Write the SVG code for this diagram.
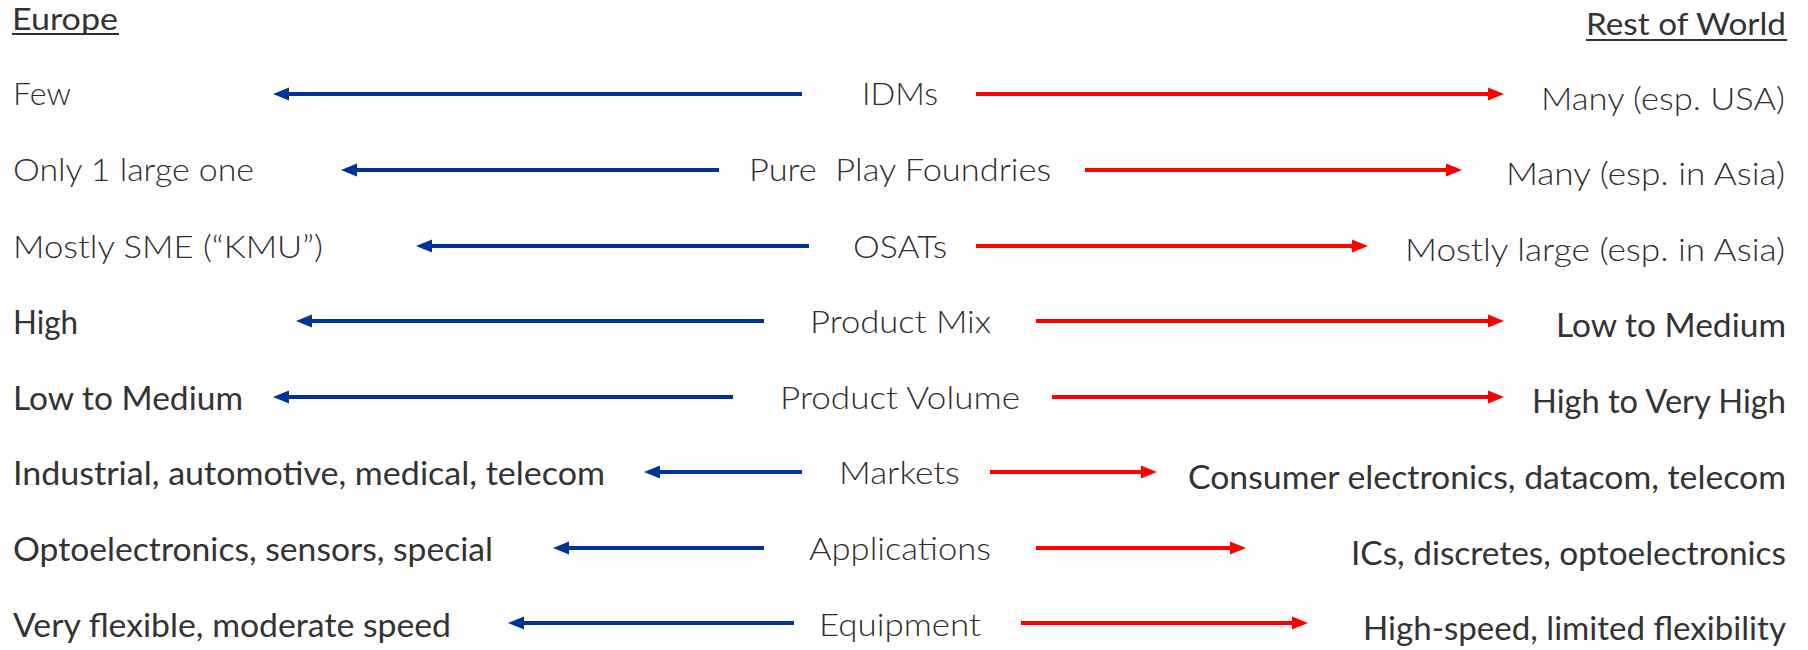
<svg xmlns="http://www.w3.org/2000/svg" width="1808" height="650" viewBox="0 0 1808 650">
  <defs>
    <style>
      text { font-family: "Lato", "Open Sans", "DejaVu Sans", sans-serif; fill: #404040; }
      .lt { font-size: 32px; font-weight: 300; fill: #2e2e2e; }
      .rg { font-size: 32px; font-weight: 400; fill: #333333; }
      .hd { font-size: 30px; font-weight: 400; fill: #333333; }
      .ul { stroke: #333333; stroke-width: 2; }
      .eu { stroke: #003399; stroke-width: 4; fill: none; marker-end: url(#headBlue); }
      .row { stroke: #ff0000; stroke-width: 4; fill: none; marker-end: url(#headRed); }
    </style>
    <marker id="headBlue" markerUnits="userSpaceOnUse" markerWidth="16" markerHeight="13" refX="2" refY="6.5" orient="auto" overflow="visible">
      <path d="M0,0 L16,6.5 L0,13 z" fill="#003399"/>
    </marker>
    <marker id="headRed" markerUnits="userSpaceOnUse" markerWidth="16" markerHeight="13" refX="2" refY="6.5" orient="auto" overflow="visible">
      <path d="M0,0 L16,6.5 L0,13 z" fill="#ff0000"/>
    </marker>
  </defs>

  <rect width="1808" height="650" fill="#ffffff"/>

  <!-- column headers -->
  <g id="header-europe">
    <text class="hd" x="12" y="30" textLength="106" lengthAdjust="spacingAndGlyphs">Europe</text>
    <line class="ul" x1="12" y1="34" x2="119" y2="34"/>
  </g>
  <g id="header-row">
    <text class="hd" x="1586" y="35" textLength="200" lengthAdjust="spacingAndGlyphs">Rest of World</text>
    <line class="ul" x1="1586" y1="40" x2="1787" y2="40"/>
  </g>

  <!-- topic labels (centre column) -->
  <g id="topic-idms"><text class="lt" x="862" y="105" textLength="76" lengthAdjust="spacingAndGlyphs">IDMs</text></g>
  <g id="topic-foundries"><text class="lt" x="749" y="181" textLength="302" lengthAdjust="spacingAndGlyphs" xml:space="preserve">Pure  Play Foundries</text></g>
  <g id="topic-osats"><text class="lt" x="853" y="258" textLength="94" lengthAdjust="spacingAndGlyphs">OSATs</text></g>
  <g id="topic-mix"><text class="lt" x="810" y="333" textLength="181" lengthAdjust="spacingAndGlyphs">Product Mix</text></g>
  <g id="topic-volume"><text class="lt" x="780" y="409" textLength="240" lengthAdjust="spacingAndGlyphs">Product Volume</text></g>
  <g id="topic-markets"><text class="lt" x="839" y="484" textLength="121" lengthAdjust="spacingAndGlyphs">Markets</text></g>
  <g id="topic-applications"><text class="lt" x="809" y="560" textLength="182" lengthAdjust="spacingAndGlyphs">Applications</text></g>
  <g id="topic-equipment"><text class="lt" x="819" y="636" textLength="162" lengthAdjust="spacingAndGlyphs">Equipment</text></g>

  <!-- Europe side -->
  <g id="eu-idms"><text class="lt" x="13" y="105" textLength="58" lengthAdjust="spacingAndGlyphs">Few</text></g>
  <g id="eu-foundries"><text class="lt" x="13" y="181" textLength="241" lengthAdjust="spacingAndGlyphs">Only 1 large one</text></g>
  <g id="eu-osats"><text class="lt" x="13" y="258" textLength="310" lengthAdjust="spacingAndGlyphs">Mostly SME (“KMU”)</text></g>
  <g id="eu-mix"><text class="rg" x="13" y="334" textLength="65" lengthAdjust="spacingAndGlyphs">High</text></g>
  <g id="eu-volume"><text class="rg" x="13" y="410" textLength="230" lengthAdjust="spacingAndGlyphs">Low to Medium</text></g>
  <g id="eu-markets"><text class="rg" x="13" y="485" textLength="592" lengthAdjust="spacingAndGlyphs">Industrial, automotive, medical, telecom</text></g>
  <g id="eu-applications"><text class="rg" x="13" y="561" textLength="480" lengthAdjust="spacingAndGlyphs">Optoelectronics, sensors, special</text></g>
  <g id="eu-equipment"><text class="rg" x="13" y="637" textLength="438" lengthAdjust="spacingAndGlyphs">Very flexible, moderate speed</text></g>

  <!-- rest-of-world side -->
  <g id="row-idms"><text class="lt" x="1541" y="110" textLength="244" lengthAdjust="spacingAndGlyphs">Many (esp. USA)</text></g>
  <g id="row-foundries"><text class="lt" x="1506" y="185" textLength="279" lengthAdjust="spacingAndGlyphs">Many (esp. in Asia)</text></g>
  <g id="row-osats"><text class="lt" x="1405" y="261" textLength="380" lengthAdjust="spacingAndGlyphs">Mostly large (esp. in Asia)</text></g>
  <g id="row-mix"><text class="rg" x="1556" y="337" textLength="230" lengthAdjust="spacingAndGlyphs">Low to Medium</text></g>
  <g id="row-volume"><text class="rg" x="1532" y="413" textLength="254" lengthAdjust="spacingAndGlyphs">High to Very High</text></g>
  <g id="row-markets"><text class="rg" x="1188" y="489" textLength="598" lengthAdjust="spacingAndGlyphs">Consumer electronics, datacom, telecom</text></g>
  <g id="row-applications"><text class="rg" x="1351" y="565" textLength="435" lengthAdjust="spacingAndGlyphs">ICs, discretes, optoelectronics</text></g>
  <g id="row-equipment"><text class="rg" x="1363" y="640" textLength="423" lengthAdjust="spacingAndGlyphs">High-speed, limited flexibility</text></g>

  <!-- connectors: blue towards Europe, red towards rest of world -->
  <g id="connectors">
    <line class="eu" x1="802" y1="94" x2="287" y2="94"/>
    <line class="row" x1="976" y1="94" x2="1490" y2="94"/>

    <line class="eu" x1="719" y1="170" x2="355" y2="170"/>
    <line class="row" x1="1085" y1="170" x2="1448" y2="170"/>

    <line class="eu" x1="809" y1="246" x2="430" y2="246"/>
    <line class="row" x1="976" y1="246" x2="1354" y2="246"/>

    <line class="eu" x1="764" y1="321" x2="310" y2="321"/>
    <line class="row" x1="1036" y1="321" x2="1490" y2="321"/>

    <line class="eu" x1="733" y1="397" x2="287" y2="397"/>
    <line class="row" x1="1052" y1="397" x2="1490" y2="397"/>

    <line class="eu" x1="802" y1="472" x2="658" y2="472"/>
    <line class="row" x1="990" y1="472" x2="1143" y2="472"/>

    <line class="eu" x1="764" y1="548" x2="567" y2="548"/>
    <line class="row" x1="1036" y1="548" x2="1232" y2="548"/>

    <line class="eu" x1="794" y1="623" x2="522" y2="623"/>
    <line class="row" x1="1021" y1="623" x2="1294" y2="623"/>
  </g>
</svg>
